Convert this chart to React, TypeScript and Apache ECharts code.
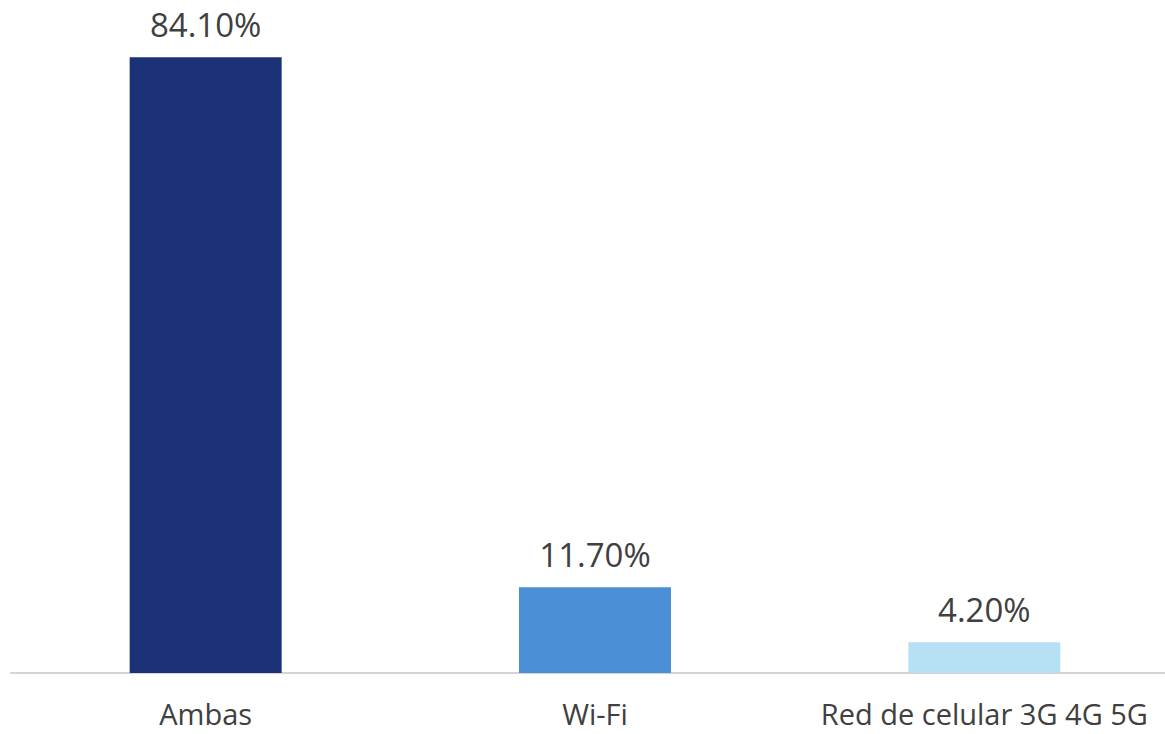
import React, { useEffect, useRef } from "react";
import * as echarts from "echarts";

const categories = ["Ambas", "Wi-Fi", "Red de celular 3G 4G 5G"];
const values = [84.1, 11.7, 4.2];
const colors = ["#1b3279", "#4b90d7", "#b6e1f4"];

export default function App() {
  const ref = useRef<HTMLDivElement>(null);
  useEffect(() => {
    const chart = echarts.init(ref.current!, null, { renderer: "svg" });
    chart.setOption({
      animation: false,
      backgroundColor: "#ffffff",
      grid: { left: 11, right: 1, top: 14, bottom: 61, containLabel: false },
      xAxis: {
        type: "category",
        data: categories,
        axisLine: { show: true, lineStyle: { color: "#d4d4d4", width: 2 } },
        axisTick: { show: false },
        axisLabel: {
          color: "#404040",
          fontSize: 29,
          lineHeight: 30,
          fontFamily: "Open Sans",
          margin: 25,
          interval: 0,
        },
      },
      yAxis: {
        type: "value",
        min: 0,
        max: 90,
        show: false,
        splitLine: { show: false },
      },
      series: [
        {
          type: "bar",
          barWidth: 152,
          data: values.map((v, i) => ({ value: v, itemStyle: { color: colors[i] } })),
          label: {
            show: true,
            position: "top",
            distance: 16,
            color: "#404040",
            fontSize: 33,
            fontFamily: "Open Sans",
            formatter: (p: any) => p.value.toFixed(2) + "%",
          },
        },
      ],
    });
    return () => chart.dispose();
  }, []);
  return (
    <div style={{ position: "fixed", left: 0, top: 0, width: 1165, height: 734, overflow: "hidden", background: "#fff" }}>
      <div ref={ref} style={{ width: 1180, height: 734 }} />
    </div>
  );
}
